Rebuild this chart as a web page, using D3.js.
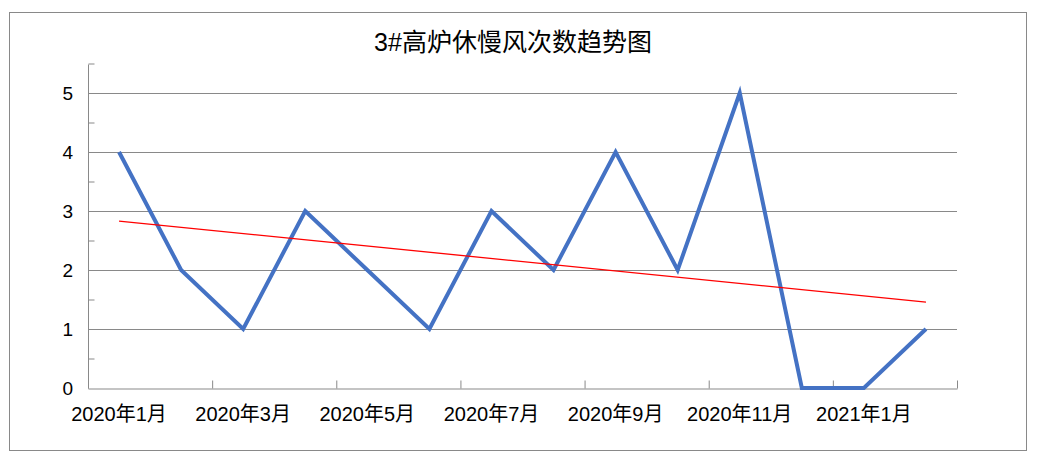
<!DOCTYPE html>
<html><head><meta charset="utf-8">
<script src="https://cdn.jsdelivr.net/npm/d3@7/dist/d3.min.js"></script>
<style>
body{margin:0;background:#fff;}
svg{display:block;font-family:"Liberation Sans","Noto Sans CJK SC",Arial,sans-serif;}
</style></head><body>
<svg id="c" width="1037" height="466"></svg>
<script>
const title = "3#高炉休慢风次数趋势图";
const categories = ["2020年1月","2020年2月","2020年3月","2020年4月","2020年5月","2020年6月","2020年7月","2020年8月","2020年9月","2020年10月","2020年11月","2020年12月","2021年1月","2021年2月"];
const values = [4,2,1,3,2,1,3,2,4,2,5,0,0,1];
const yMajorTicks = [0,1,2,3,4,5];
const yMinorTicks = [0.5,1.5,2.5,3.5,4.5,5.5];

const svg = d3.select("#c");
const L = 88, R = 957, T = 63.5, B = 388;
const grey = "#898989";

svg.append("rect").attr("x",9.5).attr("y",12.5).attr("width",1017).attr("height",438)
  .attr("fill","#fff").attr("stroke",grey).attr("stroke-width",1);

svg.append("text").attr("x",513).attr("y",51).attr("text-anchor","middle")
  .attr("font-size",25).attr("fill","#000").text(title);

const x = d3.scaleBand().domain(categories).range([L,R]).padding(0);
const xi = d3.scaleLinear().domain([0,categories.length]).range([L,R]);
const y = d3.scaleLinear().domain([0,5.5]).range([B,T]);

// gridlines
svg.append("g").selectAll("line").data(yMajorTicks.filter(d=>d>0)).join("line")
  .attr("x1",L).attr("x2",R).attr("y1",d=>Math.round(y(d))+0.5).attr("y2",d=>Math.round(y(d))+0.5)
  .attr("stroke",grey).attr("stroke-width",1);

// y axis (minor ticks inward)
const yAx = svg.append("g").attr("transform",`translate(${L+0.5},0)`)
  .call(d3.axisRight(y).tickValues(yMinorTicks).tickSize(6).tickFormat(""));
yAx.selectAll("path,line").attr("stroke",grey);
yAx.select(".domain").attr("d",`M0,${Math.round(T)+0.5}V${B+0.5}`);

// y labels
const yLab = svg.append("g").attr("transform",`translate(${L},0)`)
  .call(d3.axisLeft(y).tickValues(yMajorTicks).tickSize(0).tickPadding(15).tickFormat(d3.format("d")));
yLab.select(".domain").remove();
yLab.selectAll("text").attr("font-size",19).attr("fill","#000").attr("font-family",null);

// x axis
const xAx = svg.append("g").attr("transform",`translate(0,${B+0.5})`)
  .call(d3.axisBottom(xi).tickValues(d3.range(0,categories.length+1,2)).tickSizeInner(-8).tickSizeOuter(0).tickFormat(""));
xAx.selectAll("path,line").attr("stroke",grey);

// x labels
svg.append("g").selectAll("text").data(categories.filter((d,i)=>i%2===0)).join("text")
  .attr("x",d=>x(d)+x.bandwidth()/2).attr("y",421).attr("text-anchor","middle")
  .attr("font-size",20).attr("fill","#000").text(d=>d);

// series line
const pts = categories.map((c,i)=>[x(c)+x.bandwidth()/2, y(values[i])]);
svg.append("path").attr("d",d3.line()(pts)).attr("fill","none")
  .attr("stroke","#4472C4").attr("stroke-width",4).attr("stroke-linejoin","miter");

// linear trendline (least squares on data)
const n = values.length;
const xs = d3.range(1,n+1);
const mx = d3.mean(xs), my = d3.mean(values);
const slope = d3.sum(xs.map((v,i)=>(v-mx)*(values[i]-my)))/d3.sum(xs.map(v=>(v-mx)*(v-mx)));
const icpt = my - slope*mx;
const c0 = categories[0], c1 = categories[n-1];
svg.append("line")
  .attr("x1",x(c0)+x.bandwidth()/2).attr("y1",y(icpt+slope*1))
  .attr("x2",x(c1)+x.bandwidth()/2).attr("y2",y(icpt+slope*n))
  .attr("stroke","#FF0000").attr("stroke-width",1.3);
</script>
</body></html>
